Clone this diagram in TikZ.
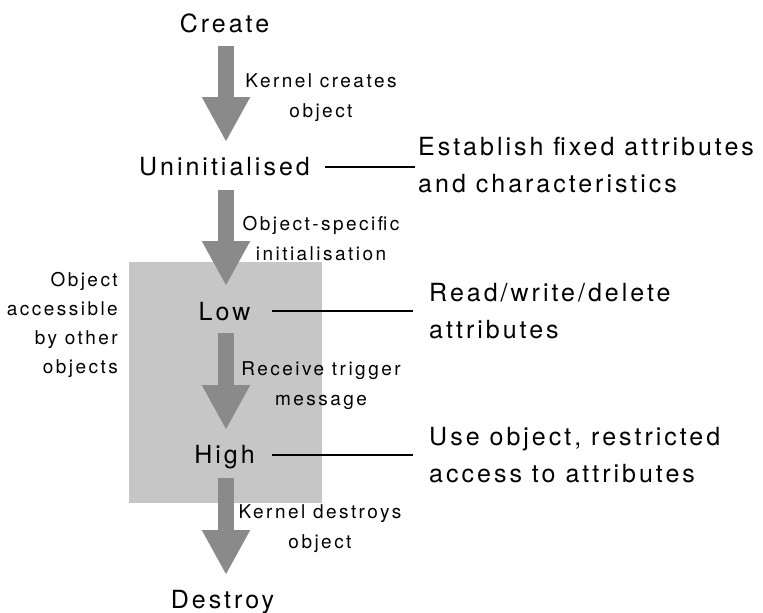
\documentclass[tikz,border=0pt]{standalone}
\usepackage{fontspec}
\setmainfont{TeX Gyre Heros}
\newfontfamily\bigfont{TeX Gyre Heros}[LetterSpace=12]
\newfontfamily\smallfont{TeX Gyre Heros}[LetterSpace=13]
\usetikzlibrary{arrows.meta}
\definecolor{arrowgray}{HTML}{8A8A8A}
\definecolor{zonegray}{HTML}{C6C6C6}
\tikzset{
  state/.style={font=\bigfont\fontsize{25}{36.5}\selectfont, inner sep=0pt, anchor=base},
  note/.style={font=\bigfont\fontsize{25}{36.5}\selectfont, inner sep=0pt, align=left, anchor=base west},
  small/.style={font=\smallfont\fontsize{19}{29.5}\selectfont, inner sep=0pt, align=center, anchor=base},
  side/.style={font=\smallfont\fontsize{19}{28.7}\selectfont, inner sep=0pt, align=right, anchor=base east},
  bigarrow/.style={draw=arrowgray, line width=16pt, -{Triangle[width=45pt,length=45pt]}},
  link/.style={draw=black, line width=1.3pt},
}
\begin{document}
\begin{tikzpicture}[x=1pt,y=-1pt]
\useasboundingbox (0,0) rectangle (763,613);
\node[fill=zonegray, minimum width=193pt, minimum height=241pt, inner sep=0pt] (zone) at (225.5,382.5) {};

\node[state] (create) at (224.5,32) {Create};
\node[state] (uninit) at (224.5,175) {Uninitialised};
\node[state] (low) at (224.5,320) {Low};
\node[state] (high) at (224.5,463) {High};
\node[state] (destroy) at (222.5,608) {Destroy};

\node[small] (l1) at (321,117) {Kernel creates\\object};
\node[small] (l2) at (321,260) {Object-specific\\initialisation};
\node[small] (l3) at (321,405) {Receive trigger\\message};
\node[small] (l4) at (320,548) {Kernel destroys\\object};

\node[side] (access) at (118,373) {Object\\accessible\\by other\\objects};

\node[note] (est) at (418,192) {Establish fixed attributes\\and characteristics};
\node[note] (rwd) at (429,338) {Read/write/delete\\attributes};
\node[note] (use) at (429,482) {Use object, restricted\\access to attributes};

\draw[bigarrow] ([xshift=1.5pt,yshift=-14pt]create.base) -- ([xshift=1.5pt,yshift=33pt]uninit.base);
\draw[bigarrow] ([xshift=1.5pt,yshift=-15pt]uninit.base) -- ([xshift=1.5pt,yshift=34pt]low.base);
\draw[bigarrow] ([xshift=1.5pt,yshift=-13pt]low.base) -- ([xshift=1.5pt,yshift=33pt]high.base);
\draw[bigarrow] ([xshift=1.5pt,yshift=-15pt]high.base) -- ([xshift=3.5pt,yshift=33pt]destroy.base);

\draw[link] ([xshift=15pt,yshift=8pt]uninit.base east) -- ([xshift=-3pt,yshift=8pt]uninit.base east -| est.west);
\draw[link] ([xshift=21pt,yshift=9pt]low.base east) -- ([xshift=-16pt,yshift=9pt]low.base east -| rwd.west);
\draw[link] ([xshift=17pt,yshift=8pt]high.base east) -- ([xshift=-16pt,yshift=8pt]high.base east -| use.west);
\end{tikzpicture}
\end{document}
